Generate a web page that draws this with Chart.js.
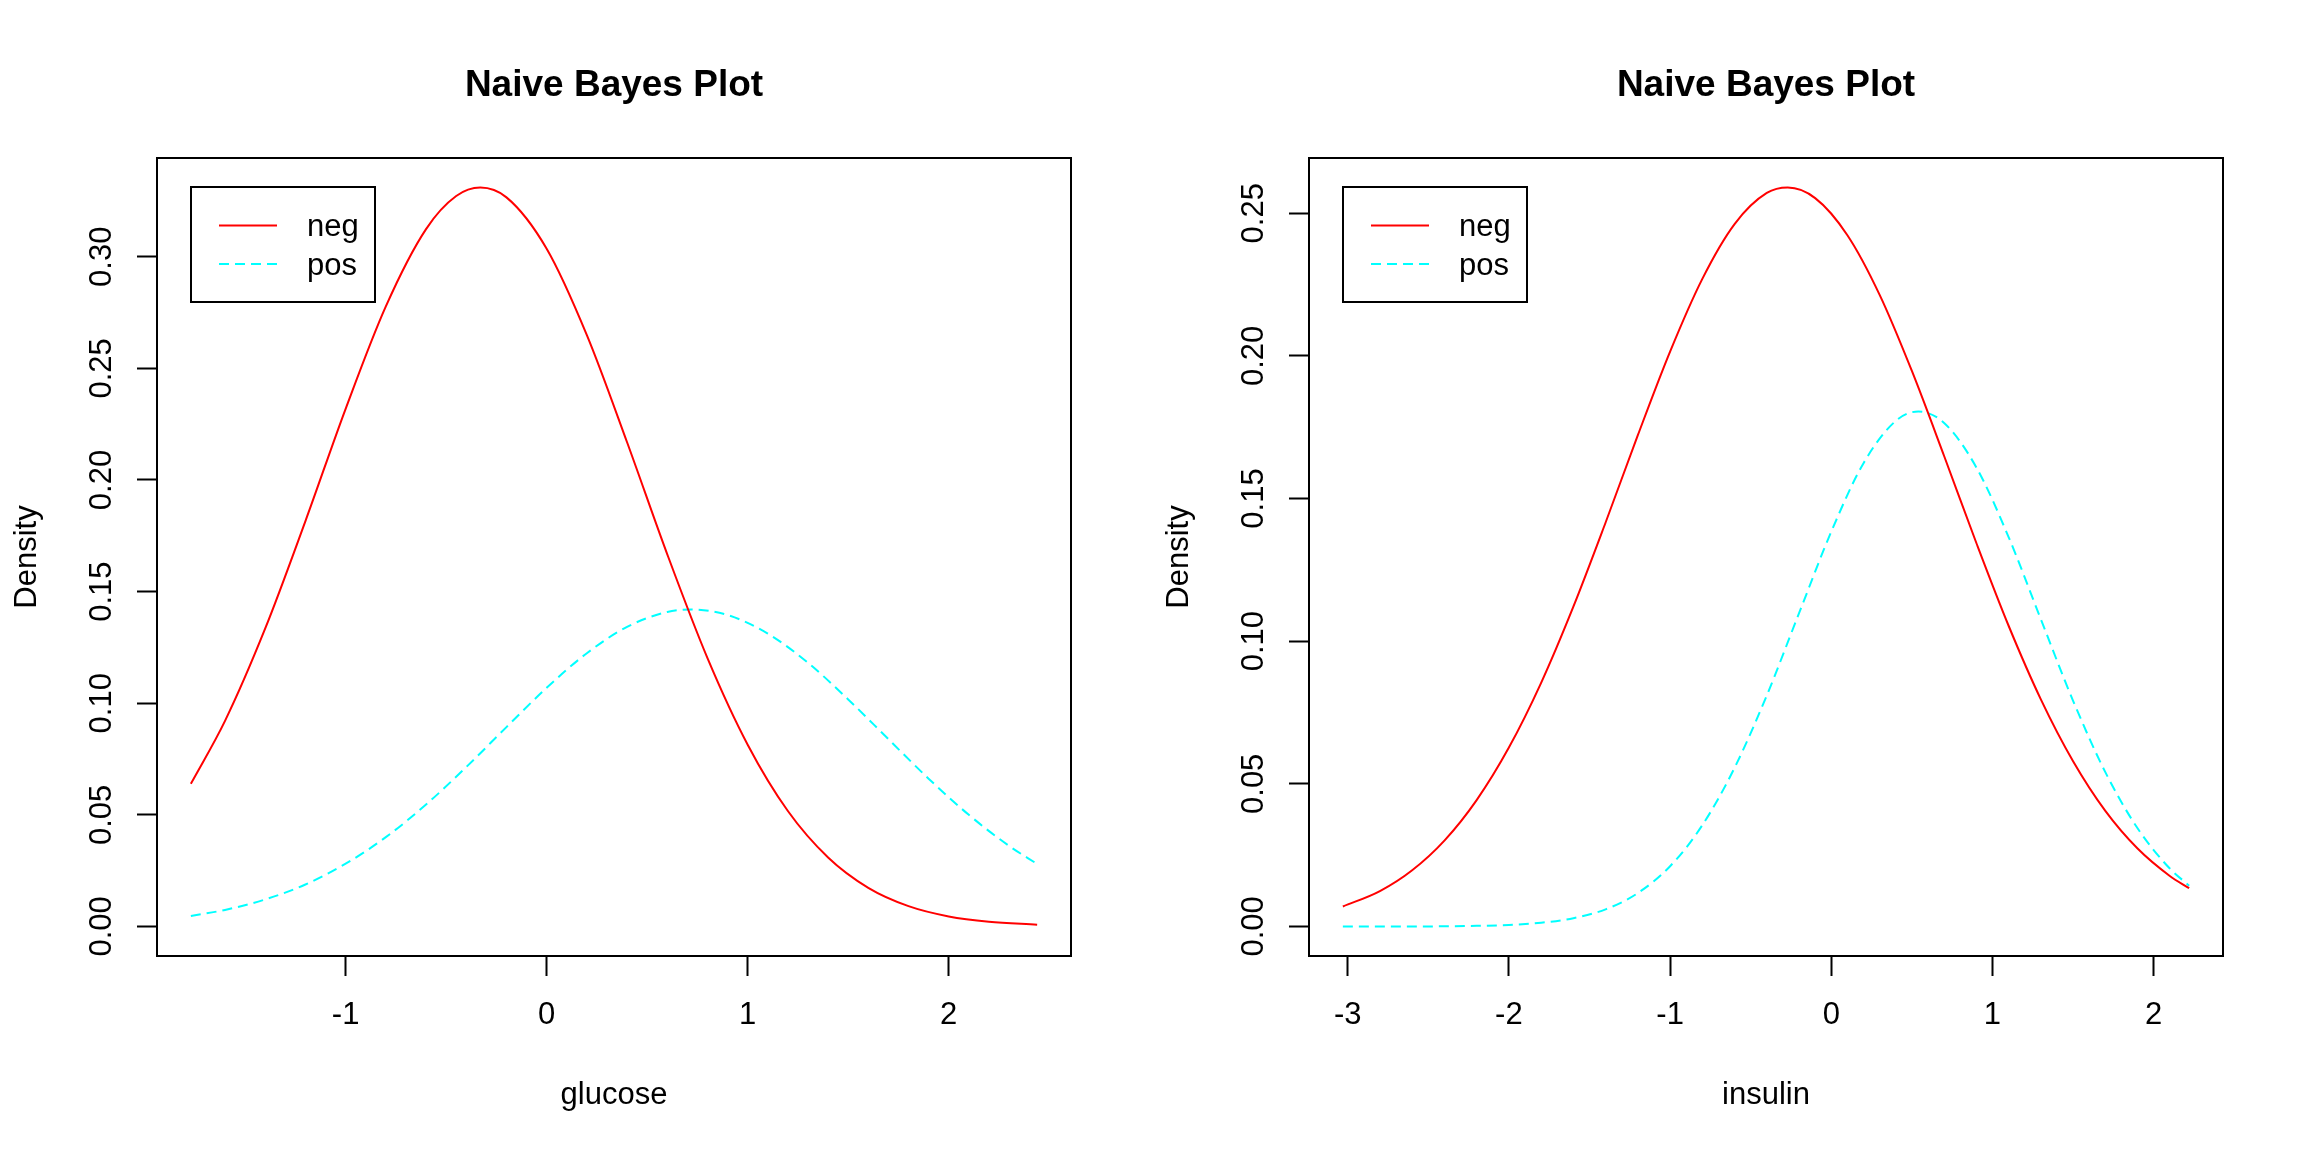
<!DOCTYPE html>
<html>
<head>
<meta charset="utf-8">
<title>Naive Bayes Plot</title>
<script src="https://cdn.jsdelivr.net/npm/chart.js@4.4.1/dist/chart.umd.min.js"></script>
<style>
  html, body { margin: 0; padding: 0; background: #fff; }
  #wrap { position: relative; width: 2304px; height: 1152px; }
  .panel { position: absolute; top: 0; width: 1152px; height: 1152px; }
</style>
</head>
<body>
<div id="wrap">
  <div class="panel" style="left:0"><canvas id="glucoseChart" width="1152" height="1152"></canvas></div>
  <div class="panel" style="left:1152px"><canvas id="insulinChart" width="1152" height="1152"></canvas></div>
</div>
<script>
// Class labels
const classes = ['neg', 'pos'];

// glucose panel
const glucoseNegX = [-1.77, -1.6, -1.4, -1.2, -1.0, -0.8, -0.6, -0.45, -0.33, -0.2, 0, 0.2, 0.4, 0.6, 0.8, 1.0, 1.2, 1.4, 1.6, 1.8, 2.0, 2.2, 2.44];
const glucoseNegY = [0.0639, 0.0921, 0.1335, 0.1816, 0.2319, 0.2778, 0.3124, 0.3272, 0.331, 0.3266, 0.3036, 0.2649, 0.2169, 0.1667, 0.1202, 0.0814, 0.0517, 0.0309, 0.0173, 0.0091, 0.0045, 0.0021, 0.0008];
const glucosePosX = [-1.77, -1.6, -1.4, -1.2, -1.0, -0.8, -0.6, -0.4, -0.2, 0, 0.2, 0.4, 0.6, 0.72, 0.9, 1.1, 1.3, 1.5, 1.7, 1.9, 2.1, 2.3, 2.44];
const glucosePosY = [0.0047, 0.0074, 0.0121, 0.0188, 0.0281, 0.0400, 0.0546, 0.0714, 0.0893, 0.1069, 0.1224, 0.1342, 0.1409, 0.1420, 0.1395, 0.1312, 0.1181, 0.1017, 0.0839, 0.0662, 0.0500, 0.0361, 0.0280];

// insulin panel
const insulinNegX = [-3.03, -2.8, -2.6, -2.4, -2.2, -2.0, -1.8, -1.6, -1.4, -1.2, -1.0, -0.8, -0.6, -0.4, -0.27, -0.1, 0.1, 0.3, 0.5, 0.7, 0.9, 1.1, 1.3, 1.5, 1.7, 1.9, 2.1, 2.22];
const insulinNegY = [0.0070, 0.0124, 0.0197, 0.0301, 0.0443, 0.0627, 0.0854, 0.1121, 0.1416, 0.1722, 0.2015, 0.2270, 0.2462, 0.2571, 0.2590, 0.2553, 0.2423, 0.2214, 0.1947, 0.1649, 0.1344, 0.1054, 0.0796, 0.0579, 0.0405, 0.0273, 0.0177, 0.0134];
const insulinPosX = [-3.03, -2.6, -2.2, -2.0, -1.8, -1.6, -1.4, -1.2, -1.0, -0.8, -0.6, -0.4, -0.2, 0, 0.2, 0.4, 0.54, 0.7, 0.9, 1.1, 1.3, 1.5, 1.7, 1.9, 2.1, 2.22];
const insulinPosY = [0.0000, 0.0000, 0.0002, 0.0005, 0.0013, 0.0029, 0.0060, 0.0117, 0.0211, 0.0355, 0.0556, 0.0810, 0.1098, 0.1384, 0.1624, 0.1772, 0.1805, 0.1765, 0.1609, 0.1365, 0.1077, 0.0791, 0.0541, 0.0344, 0.0203, 0.0143];

// Tick values
const glucoseTicksX = [-1, 0, 1, 2];
const glucoseTicksY = [0, 0.05, 0.10, 0.15, 0.20, 0.25, 0.30];
const insulinTicksX = [-3, -2, -1, 0, 1, 2];
const insulinTicksY = [0, 0.05, 0.10, 0.15, 0.20, 0.25];

Chart.defaults.font.family = '"Liberation Sans", Arial, Helvetica, sans-serif';
Chart.defaults.color = '#000';

function toPoints(xs, ys) {
    return xs.map((x, i) => ({ x: x, y: ys[i] }));
}

// R-style limits: data range widened by 4% on each side
function rRange(lo, hi) {
    const d = (hi - lo) * 0.04;
    return [lo - d, hi + d];
}

// Box around the plot region
const plotFrame = {
    id: 'plotFrame',
    afterDatasetsDraw(chart) {
        const { ctx, chartArea: a } = chart;
        ctx.save();
        ctx.lineWidth = 2;
        ctx.strokeStyle = '#000';
        ctx.strokeRect(a.left, a.top, a.right - a.left, a.bottom - a.top);
        ctx.restore();
    }
};

// Legend with a frame, top-left inside the plot
const legendBox = {
    id: 'legendBox',
    afterDraw(chart) {
        const { ctx, chartArea: a } = chart;
        const left = a.left + 34, top = a.top + 29;
        ctx.save();
        ctx.lineWidth = 2;
        ctx.strokeStyle = '#000';
        ctx.setLineDash([]);
        ctx.strokeRect(left, top, 184, 115);
        ctx.font = '31px "Liberation Sans", Arial, sans-serif';
        ctx.textBaseline = 'middle';
        ctx.fillStyle = '#000';
        chart.data.datasets.forEach((ds, i) => {
            const y = top + 38.5 + i * 38.5;
            ctx.beginPath();
            ctx.setLineDash(ds.borderDash || []);
            ctx.strokeStyle = ds.borderColor;
            ctx.lineWidth = 2;
            ctx.moveTo(left + 28, y);
            ctx.lineTo(left + 86, y);
            ctx.stroke();
            ctx.fillText(ds.label, left + 116, y + 2);
        });
        ctx.restore();
    }
};

function axisOptions(extra) {
    return Object.assign({
        type: 'linear',
        grid: { drawOnChartArea: false, drawTicks: true, tickLength: 20, tickWidth: 2, tickColor: '#000' },
        border: { display: true, color: '#000', width: 2 }
    }, extra);
}

function makeChart(canvasId, xLabel, negX, negY, posX, posY, xTicks, yTicks) {
    const allX = negX.concat(posX);
    const xr = rRange(Math.min(...allX), Math.max(...allX));
    const yr = rRange(0, Math.max(...negY, ...posY));

    return new Chart(document.getElementById(canvasId), {
        type: 'line',
        data: {
            datasets: [
                {
                    label: classes[0],
                    data: toPoints(negX, negY),
                    borderColor: '#ff0000',
                    borderWidth: 2,
                    pointRadius: 0,
                    cubicInterpolationMode: 'monotone',
                    fill: false
                },
                {
                    label: classes[1],
                    data: toPoints(posX, posY),
                    borderColor: '#00ffff',
                    borderWidth: 2,
                    borderDash: [10, 6],
                    pointRadius: 0,
                    cubicInterpolationMode: 'monotone',
                    fill: false
                }
            ]
        },
        options: {
            responsive: false,
            animation: false,
            layout: { padding: { left: 0, top: 0, right: 81, bottom: 0 } },
            plugins: {
                legend: { display: false },
                tooltip: { enabled: false },
                title: {
                    display: true,
                    text: 'Naive Bayes Plot',
                    fullSize: false,
                    color: '#000',
                    font: { size: 37, weight: 'bold', lineHeight: 1.2 },
                    padding: { top: 63.5, bottom: 50.1 }
                }
            },
            scales: {
                x: axisOptions({
                    position: 'bottom',
                    min: xr[0],
                    max: xr[1],
                    afterBuildTicks: s => { s.ticks = xTicks.map(v => ({ value: v })); },
                    afterFit: s => { s.height = 196; },
                    ticks: {
                        autoSkip: false, minRotation: 0, maxRotation: 0, padding: 20.5,
                        color: '#000', font: { size: 31 },
                        callback: v => String(v)
                    },
                    title: {
                        display: true, text: xLabel, color: '#000',
                        font: { size: 31 }, padding: { top: 0, bottom: 38 }
                    }
                }),
                y: axisOptions({
                    position: 'left',
                    min: yr[0],
                    max: yr[1],
                    afterBuildTicks: s => { s.ticks = yTicks.map(v => ({ value: v })); },
                    afterFit: s => { s.width = 157; },
                    ticks: {
                        autoSkip: false, minRotation: 90, maxRotation: 90, crossAlign: 'center', padding: 4.5,
                        color: '#000', font: { size: 31 },
                        callback: v => v.toFixed(2)
                    },
                    title: {
                        display: true, text: 'Density', color: '#000',
                        font: { size: 31 }, padding: { top: 9, bottom: 0 }
                    }
                })
            }
        },
        plugins: [plotFrame, legendBox]
    });
}

makeChart('glucoseChart', 'glucose', glucoseNegX, glucoseNegY, glucosePosX, glucosePosY, glucoseTicksX, glucoseTicksY);
makeChart('insulinChart', 'insulin', insulinNegX, insulinNegY, insulinPosX, insulinPosY, insulinTicksX, insulinTicksY);
</script>
</body>
</html>
